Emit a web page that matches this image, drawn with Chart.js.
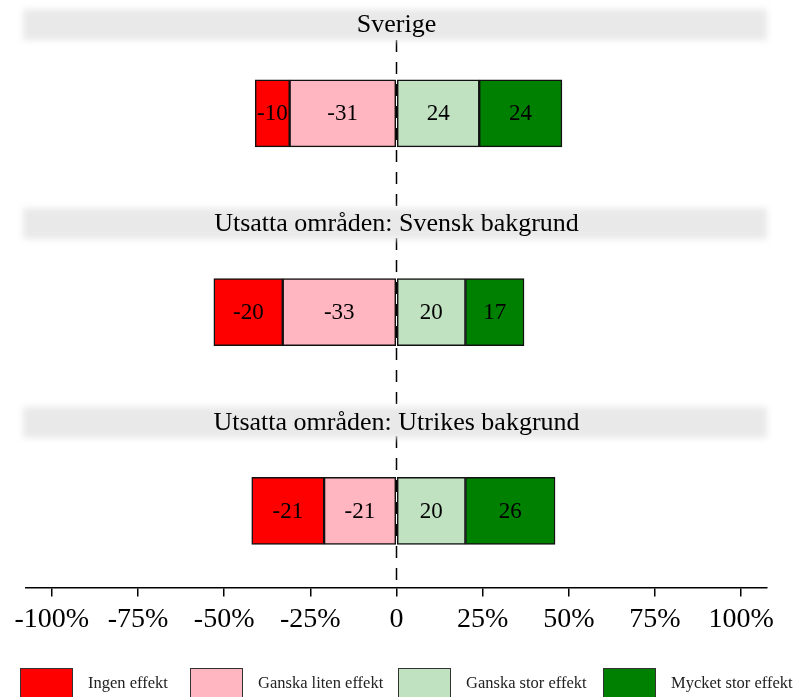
<!DOCTYPE html>
<html>
<head>
<meta charset="utf-8">
<script src="https://cdn.jsdelivr.net/npm/chart.js@4"></script>
<style>
    html, body { margin: 0; padding: 0; background: #fff; }
    #wrap { position: relative; width: 799px; height: 697px; overflow: hidden; }
    #legend { position: absolute; left: 0; top: 668px; width: 799px; height: 29px; }
    .item { position: absolute; top: 0; display: flex; align-items: center; height: 29px; }
    .item .box { width: 51px; height: 28px; border: 1.5px solid #333; }
    .item span { margin-left: 15px; font: 16.5px 'Liberation Serif', serif; color: #222; white-space: nowrap; }
</style>
</head>
<body>
<div id="wrap">
    <canvas id="chart"></canvas>
    <div id="legend"></div>
</div>
<script>
// Grupper (paneler) och andelar i procent
const groups = ['Sverige', 'Utsatta områden: Svensk bakgrund', 'Utsatta områden: Utrikes bakgrund'];
const ingenEffekt = [-10, -20, -21];
const ganskaLiten = [-31, -33, -21];
const ganskaStor = [24, 20, 20];
const mycketStor = [24, 17, 26];
const xTicks = [-100, -75, -50, -25, 0, 25, 50, 75, 100];

const legendNames = ['Ingen effekt', 'Ganska liten effekt', 'Ganska stor effekt', 'Mycket stor effekt'];
const legendColors = ['#ff0000', '#ffb6c1', '#c0e2c0', '#008000'];
const legendLeft = [20, 190, 398, 603];

const toPoints = arr => arr.map((v, i) => ({ x: v, y: i }));

// Negativa staplar staplas utåt från 0 i datasetordning
const datasets = [
    { label: legendNames[1], data: toPoints(ganskaLiten), backgroundColor: legendColors[1] },
    { label: legendNames[0], data: toPoints(ingenEffekt), backgroundColor: legendColors[0] },
    { label: legendNames[2], data: toPoints(ganskaStor), backgroundColor: legendColors[2] },
    { label: legendNames[3], data: toPoints(mycketStor), backgroundColor: legendColors[3] }
].map(d => ({ ...d, borderColor: '#111', borderWidth: 1.5, borderSkipped: false, barThickness: 67, grouped: false }));

// Streckad nollinje
const zeroLine = {
    id: 'zeroLine',
    beforeDatasetsDraw(chart) {
        const { ctx, chartArea, scales } = chart;
        const x = scales.x.getPixelForValue(0);
        ctx.save();
        ctx.strokeStyle = '#000';
        ctx.lineWidth = 1.5;
        ctx.setLineDash([12, 10]);
        ctx.beginPath();
        ctx.moveTo(x, chartArea.top + 36);
        ctx.lineTo(x, chartArea.bottom);
        ctx.stroke();
        ctx.restore();
    }
};

// Värden i varje segment
const barLabels = {
    id: 'barLabels',
    afterDatasetsDraw(chart) {
        const { ctx } = chart;
        ctx.save();
        ctx.font = "23px 'Liberation Serif', serif";
        ctx.fillStyle = '#000';
        ctx.textAlign = 'center';
        ctx.textBaseline = 'middle';
        chart.data.datasets.forEach((ds, di) => {
            chart.getDatasetMeta(di).data.forEach((el, i) => {
                const c = el.getCenterPoint();
                ctx.fillText(String(ds.data[i].x), c.x, c.y + 1);
            });
        });
        ctx.restore();
    }
};

// Grå rubrikband ovanför varje panel
const panelTitles = {
    id: 'panelTitles',
    afterDraw(chart) {
        const { ctx, chartArea, scales } = chart;
        const cx = scales.x.getPixelForValue(0);
        groups.forEach((g, i) => {
            const y = scales.y.getPixelForValue(i) - 89;
            ctx.save();
            ctx.filter = 'blur(3px)';
            ctx.fillStyle = '#e9e9e9';
            ctx.fillRect(chartArea.left - 3, y - 15, chartArea.right - chartArea.left + 3, 31);
            ctx.restore();
            ctx.save();
            ctx.font = "26px 'Liberation Serif', serif";
            ctx.fillStyle = '#000';
            ctx.textAlign = 'center';
            ctx.textBaseline = 'middle';
            ctx.fillText(g, cx, y + 1);
            ctx.restore();
        });
    }
};

new Chart(document.getElementById('chart'), {
    type: 'bar',
    data: { datasets },
    options: {
        indexAxis: 'y',
        responsive: true,
        maintainAspectRatio: false,
        animation: false,
        layout: { padding: { left: 26, right: 32, top: 4, bottom: 55 } },
        plugins: { legend: { display: false }, tooltip: { enabled: false } },
        scales: {
            x: {
                type: 'linear',
                min: -107.5,
                max: 107.5,
                stacked: true,
                afterBuildTicks: axis => { axis.ticks = xTicks.map(v => ({ value: v })); },
                grid: { drawOnChartArea: false, drawTicks: true, tickLength: 9, color: '#000', lineWidth: 1.5 },
                border: { display: true, color: '#000', width: 1.5 },
                ticks: {
                    autoSkip: false,
                    maxRotation: 0,
                    padding: 6,
                    color: '#000',
                    font: { family: "'Liberation Serif', serif", size: 28 },
                    callback: v => v === 0 ? '0' : v + '%'
                }
            },
            y: {
                type: 'linear',
                display: false,
                reverse: true,
                offset: false,
                grace: 0,
                min: -0.55,
                max: 2.385
            }
        }
    },
    plugins: [zeroLine, barLabels, panelTitles]
});

// Förklaring
const legendEl = document.getElementById('legend');
legendNames.forEach((name, i) => {
    const item = document.createElement('div');
    item.className = 'item';
    item.style.left = legendLeft[i] + 'px';
    item.innerHTML = `<div class="box" style="background:${legendColors[i]}"></div><span>${name}</span>`;
    legendEl.appendChild(item);
});
</script>
</body>
</html>
